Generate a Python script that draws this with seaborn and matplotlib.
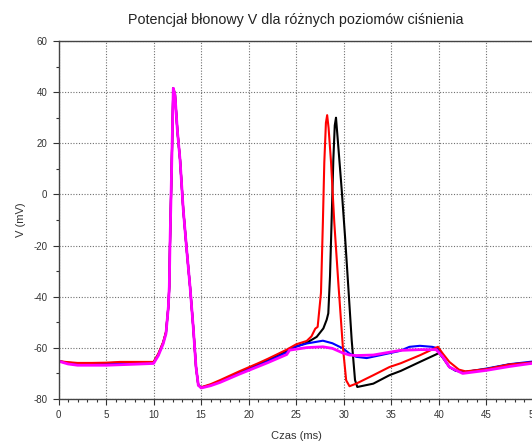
import numpy as np
import pandas as pd
import seaborn as sns
import matplotlib
matplotlib.use("Agg")
import matplotlib.pyplot as plt
from matplotlib.ticker import MultipleLocator


# ============================================
# DATA
# ============================================

# shared start: rest, first spike, recovery
t_start = [0, 1, 2, 3.5, 5, 6.5, 8, 10, 10.5, 11.0, 11.3, 11.55, 11.65, 11.72,
           11.9, 12.07, 12.25, 12.5, 12.78, 13.12, 13.48, 13.83, 14.17, 14.46,
           14.7, 15.0, 16, 17, 18, 19, 20, 21, 22, 23, 24]

v_black_start = [-65.2, -65.8, -66.1, -66.1, -66.0, -65.8, -65.7, -65.6, -62.5,
                 -58.0, -54.0, -44, -36, -20, 11, 41.5, 39, 25, 13.6, -6, -21.7,
                 -36, -52, -67.5, -74.6, -75.5, -74.5, -73.0, -71.3, -69.7,
                 -68.1, -66.5, -64.8, -63.0, -61.2]
v_red_start = [-65.2, -65.6, -65.9, -65.9, -65.8, -65.5, -65.5, -65.5, -62.3,
               -57.8, -53.8, -44, -36, -20, 11, 41.5, 39, 25, 13.6, -6, -21.7,
               -36, -52, -67.5, -74.6, -75.4, -74.2, -72.6, -70.9, -69.2,
               -67.6, -66.0, -64.3, -62.5, -60.7]
v_blue_start = [-65.2, -66.0, -66.4, -66.4, -66.3, -66.1, -65.9, -65.8, -62.7,
                -58.2, -54.2, -44, -36, -20, 11, 41.5, 39, 25, 13.6, -6, -21.7,
                -36, -52, -67.5, -74.6, -75.5, -74.6, -73.2, -71.5, -69.9,
                -68.3, -66.8, -65.2, -63.5, -61.8]
v_magenta_start = [-65.2, -66.3, -66.8, -66.8, -66.8, -66.6, -66.4, -66.1, -63.0,
                   -58.5, -54.5, -44, -36, -20, 11, 41.5, 39, 25, 13.6, -6, -21.7,
                   -36, -52, -67.5, -74.6, -75.7, -74.8, -73.5, -71.9, -70.3,
                   -68.8, -67.3, -65.8, -64.2, -62.6]

# black: second spike latest
t_black_end = [25, 26.1, 27.15, 27.85, 28.2, 28.37, 28.55, 28.72, 28.9, 29.05,
               29.18, 29.42, 29.78, 30.13, 30.47, 30.83, 31.18, 31.42, 33.1,
               34.8, 36, 38, 39.8, 40.0, 40.4, 41.1, 41.8, 42.8, 45, 47.4, 49.5, 50]
v_black_end = [-59.5, -58, -55.7, -52.4, -49, -46.5, -32, -10, 13.6, 27,
               30, 18.8, 1.8, -16.5, -36, -57, -72.6, -75.3, -74, -70.7, -69,
               -65.5, -62.4, -62.0, -63.8, -67.5, -69, -69.4, -68.3, -66.5, -65.8, -65.6]

# red: second spike earlier
t_red_end = [25, 26.1, 26.6, 27.0, 27.25, 27.6, 27.8, 27.95, 28.12, 28.25,
             28.4, 28.66, 29.0, 29.45, 29.9, 30.25, 30.6, 31.3, 33.1, 34.8,
             36, 38, 39.9, 40.4, 41.1, 42.1, 42.8, 45, 47.4, 49.5, 50]
v_red_end = [-58.6, -57.3, -55.5, -52.5, -51.8, -38.5, -11, 12.5, 28, 31,
             26, 12.5, -11, -36, -59.6, -72.7, -75, -74, -70.7, -67.5,
             -66, -62.9, -59.6, -62.2, -65.5, -68.5, -69.2, -68.3, -66.5, -65.8, -65.6]

# blue: no second spike, small hump
t_blue_end = [24.3, 26.1, 27.8, 28.8, 29.9, 30.6, 31.3, 32.4, 33.8, 35.9,
              36.9, 38, 39.3, 39.9, 40.4, 41.1, 41.8, 42.8, 45, 47.4, 49.5, 50]
v_blue_end = [-60.2, -58.3, -57.2, -58.2, -60.2, -62.2, -63.5, -64, -62.9, -61.2,
              -59.6, -59.2, -59.6, -60.2, -63.5, -67.5, -69, -69.4, -68.1, -66.4,
              -65.5, -65.3]

# magenta: no second spike, flatter hump
t_magenta_end = [24.3, 26.1, 27.8, 28.8, 29.9, 30.6, 31.3, 33.1, 35.9, 38,
                 39.7, 40.4, 41.1, 42.5, 45, 47.4, 49.5, 50]
v_magenta_end = [-60.9, -59.9, -59.6, -60.2, -62, -62.8, -63, -62.8, -61, -60.7,
                 -60.7, -63.5, -67.5, -70, -68.8, -67.3, -66.2, -66]

series_names = ["black", "blue", "red", "magenta"]
series_colors = ["#000000", "#0000ff", "#ff0000", "#ff00ff"]


# ============================================
# BUILD TABLE
# ============================================

def build_frame(name, t_end, v_start, v_end):
    t_first = [t for t in t_start if t < t_end[0]]
    t = t_first + t_end
    v = v_start[:len(t_first)] + v_end
    return pd.DataFrame({"t": t, "V": v, "series": name})


frames = [
    build_frame("black", t_black_end, v_black_start, v_black_end),
    build_frame("blue", t_blue_end, v_blue_start, v_blue_end),
    build_frame("red", t_red_end, v_red_start, v_red_end),
    build_frame("magenta", t_magenta_end, v_magenta_start, v_magenta_end),
]


# ============================================
# PLOT
# ============================================

sns.set_style("white")
plt.rcParams["font.family"] = ["Liberation Sans", "DejaVu Sans"]
plt.rcParams["axes.unicode_minus"] = False

fig = plt.figure(figsize=(5.32, 4.42), dpi=100)
ax = fig.add_axes([58.5 / 532, 1 - 399 / 442, (534 - 58.5) / 532, (399 - 41) / 442])

for df, name, color in zip(frames, series_names, series_colors):
    lw = 2.0 if name == "magenta" else 1.5
    sns.lineplot(data=df, x="t", y="V", ax=ax, color=color, linewidth=lw,
                 sort=False, estimator=None)

ax.set_xlim(0, 50)
ax.set_ylim(-80, 60)
ax.xaxis.set_major_locator(MultipleLocator(5))
ax.xaxis.set_minor_locator(MultipleLocator(1))
ax.yaxis.set_major_locator(MultipleLocator(20))
ax.yaxis.set_minor_locator(MultipleLocator(10))

ax.grid(True, which="major", linestyle=(0, (1, 1.5)), color="#707070", linewidth=0.8)
ax.tick_params(which="major", direction="out", length=4.5, width=0.8,
               color="#333333", labelsize=7, labelcolor="#333333",
               bottom=True, left=True)
ax.tick_params(which="minor", direction="out", length=2.2, width=0.8,
               color="#333333", bottom=True, left=True)

for side in ["left", "bottom", "top", "right"]:
    ax.spines[side].set_color("#444444")
    ax.spines[side].set_linewidth(1.0)

ax.set_title("Potencjał błonowy V dla różnych poziomów ciśnienia",
             fontsize=10.3, color="#222222", pad=12)
ax.set_xlabel("Czas (ms)", fontsize=8, color="#333333", labelpad=8)
ax.set_ylabel("V (mV)", fontsize=8, color="#333333", labelpad=5)

fig.savefig("out.png", dpi=100)
